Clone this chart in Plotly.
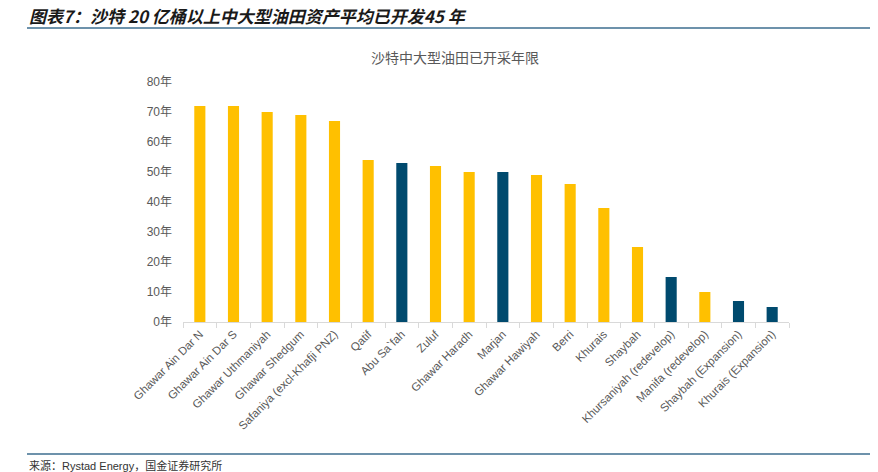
import plotly.graph_objects as go

fields = ["Ghawar Ain Dar N", "Ghawar Ain Dar S", "Ghawar Uthmaniyah", "Ghawar Shedgum",
          "Safaniya (excl-Khafji PNZ)", "Qatif", "Abu Sa`fah", "Zuluf", "Ghawar Haradh",
          "Marjan", "Ghawar Hawiyah", "Berri", "Khurais", "Shaybah",
          "Khursaniyah (redevelop)", "Manifa (redevelop)", "Shaybah (Expansion)",
          "Khurais (Expansion)"]
years = [72, 72, 70, 69, 67, 54, 53, 52, 50, 50, 49, 46, 38, 25, 15, 10, 7, 5]
offshore = [0, 0, 0, 0, 0, 0, 1, 0, 0, 1, 0, 0, 0, 0, 1, 0, 1, 1]

yellow = "#FFC000"
navy = "#004A6E"
colors = [navy if o else yellow for o in offshore]

ytick_vals = [0, 10, 20, 30, 40, 50, 60, 70, 80]
ytick_text = [f"{v}年" for v in ytick_vals]

fig = go.Figure(go.Bar(
    x=fields, y=years,
    marker=dict(color=colors, line=dict(width=0)),
))

# page body adds an 8px offset, so work in screen pixels and shift
OFF = 8
W, H = 878 - OFF, 472 - OFF
L, T = 183 - OFF, 82 - OFF
R = W - (789 - OFF)
B = H - (322 - OFF)
pw, ph = W - L - R, H - T - B

def px(x):
    return (x - OFF - L) / pw

def py(y):
    return (H - B - (y - OFF)) / ph

fig.update_layout(
    width=W, height=H,
    margin=dict(l=L, r=R, t=T, b=B),
    paper_bgcolor="white", plot_bgcolor="white",
    bargap=0.67,
    showlegend=False,
    font=dict(family="Liberation Sans, Noto Sans CJK SC", color="#595959"),
    xaxis=dict(
        tickangle=-45, tickfont=dict(size=11.5, color="#595959"),
        showline=True, linecolor="#D9D9D9", linewidth=1,
        ticks="outside", tickcolor="#D9D9D9", ticklen=5, tickson="boundaries",
        showgrid=False, automargin=False,
    ),
    yaxis=dict(
        range=[0, 80], tickvals=ytick_vals, ticktext=ytick_text,
        tickfont=dict(size=12, color="#595959"),
        showgrid=False, showline=False, zeroline=False, ticks="",
        ticklabelstandoff=10, automargin=False,
    ),
    annotations=[
        dict(text="<b><i>图表7：沙特 20 亿桶以上中大型油田资产平均已开发45 年</i></b>",
             xref="paper", yref="paper", x=px(27), y=py(15), xanchor="left", yanchor="middle",
             showarrow=False, font=dict(size=17, color="#1a1a1a", family="Noto Sans CJK SC")),
        dict(text="沙特中大型油田已开采年限",
             xref="paper", yref="paper", x=px(455), y=py(57), xanchor="center", yanchor="middle",
             showarrow=False, font=dict(size=14, color="#595959", family="Noto Sans CJK SC")),
        dict(text="来源：Rystad Energy，国金证券研究所",
             xref="paper", yref="paper", x=px(27), y=py(465), xanchor="left", yanchor="middle",
             showarrow=False, font=dict(size=11, color="#333333", family="Liberation Sans, Noto Sans CJK SC")),
    ],
    shapes=[
        dict(type="line", xref="paper", yref="paper", x0=px(27), x1=px(878), y0=py(28), y1=py(28),
             line=dict(color="#3C6E8F", width=1.5)),
        dict(type="line", xref="paper", yref="paper", x0=px(27), x1=px(878), y0=py(454), y1=py(454),
             line=dict(color="#3C6E8F", width=1.5)),
    ],
)

fig.write_html("out.html")
